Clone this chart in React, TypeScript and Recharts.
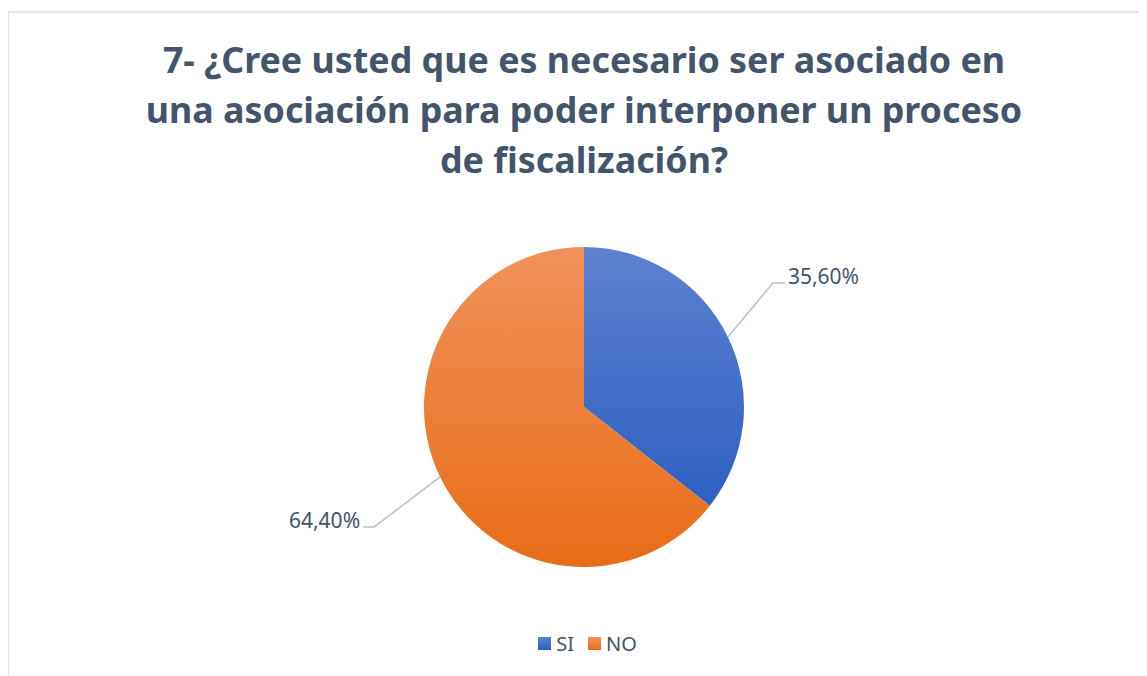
import React from "react";
import { PieChart, Pie, Cell, Legend } from "recharts";

const categories = ["SI", "NO"];
const values = [35.6, 64.4];
const titleLines = [
  "7- ¿Cree usted que es necesario ser asociado en",
  "una asociación para poder interponer un proceso",
  "de fiscalización?",
];

const data = categories.map((name, i) => ({ name, value: values[i] }));

const gradients = [
  { id: "gSI", top: "#5d82d1", bottom: "#2d60c2" },
  { id: "gNO", top: "#f2925a", bottom: "#e76c18" },
];

const TEXT = "#44546a";
const FONT = "'Noto Sans', sans-serif";
const RAD = Math.PI / 180;

// leader geometry: elbow offset from slice edge, then short horizontal run
const leader = [
  { dx: 45, dy: -54, run: 12 },
  { dx: -66, dy: 50, run: 11 },
];

const fmt = (v: number) => v.toFixed(2).replace(".", ",") + "%";

function renderLabel(props: any) {
  const { cx, cy, midAngle, outerRadius, value, index } = props;
  const sx = cx + outerRadius * Math.cos(-midAngle * RAD);
  const sy = cy + outerRadius * Math.sin(-midAngle * RAD);
  const l = leader[index];
  const ex = sx + l.dx;
  const ey = sy + l.dy;
  const right = l.dx > 0;
  const hx = ex + (right ? l.run : -l.run);
  return (
    <g>
      <polyline
        points={`${sx},${sy} ${ex},${ey} ${hx},${ey}`}
        fill="none"
        stroke="#b6c2d2"
        strokeWidth={1.5}
      />
      <text
        x={hx + (right ? 3 : -3)}
        y={ey - 7}
        textAnchor={right ? "start" : "end"}
        dominantBaseline="central"
        fill={TEXT}
        fontSize={21}
        fontFamily={FONT}
      >
        {fmt(value)}
      </text>
    </g>
  );
}

function LegendContent() {
  return (
    <div style={{ display: "flex", justifyContent: "center", gap: 14, fontFamily: FONT, fontSize: 20, color: TEXT }}>
      {categories.map((c, i) => (
        <div key={c} style={{ display: "flex", alignItems: "center", gap: 5 }}>
          <svg width={13} height={13}>
            <rect width={13} height={13} fill={`url(#${gradients[i].id})`} />
          </svg>
          <span>{c}</span>
        </div>
      ))}
    </div>
  );
}

export default function App() {
  return (
    <div style={{ position: "relative", width: 1139, height: 668 }}>
      <div
        style={{
          position: "absolute",
          left: -1,
          top: 3,
          width: 1200,
          height: 700,
          borderLeft: "2px solid #dfe3e8",
          borderTop: "2px solid #e3e6ea",
        }}
      />
      <div
        style={{
          position: "absolute",
          left: 0,
          top: 26,
          width: 1152,
          textAlign: "center",
          fontFamily: FONT,
          fontWeight: 700,
          fontSize: 35.8,
          lineHeight: "50px",
          color: TEXT,
        }}
      >
        {titleLines.map((t) => (
          <div key={t}>{t}</div>
        ))}
      </div>
      <div style={{ position: "absolute", left: 0, top: 0 }}>
        <PieChart width={1139} height={668}>
          <defs>
            {gradients.map((g) => (
              <linearGradient key={g.id} id={g.id} x1="0" y1="0" x2="0" y2="1">
                <stop offset="0%" stopColor={g.top} />
                <stop offset="100%" stopColor={g.bottom} />
              </linearGradient>
            ))}
          </defs>
          <Pie
            data={data}
            dataKey="value"
            nameKey="name"
            cx={571}
            cy={394}
            outerRadius={160}
            startAngle={90}
            endAngle={-270}
            stroke="none"
            label={renderLabel}
            labelLine={false}
            isAnimationActive={false}
          >
            {data.map((d, i) => (
              <Cell key={d.name} fill={`url(#${gradients[i].id})`} />
            ))}
          </Pie>
          <Legend
            content={<LegendContent />}
            wrapperStyle={{ position: "absolute", top: 622, left: 10, width: 1139 }}
          />
        </PieChart>
      </div>
    </div>
  );
}
